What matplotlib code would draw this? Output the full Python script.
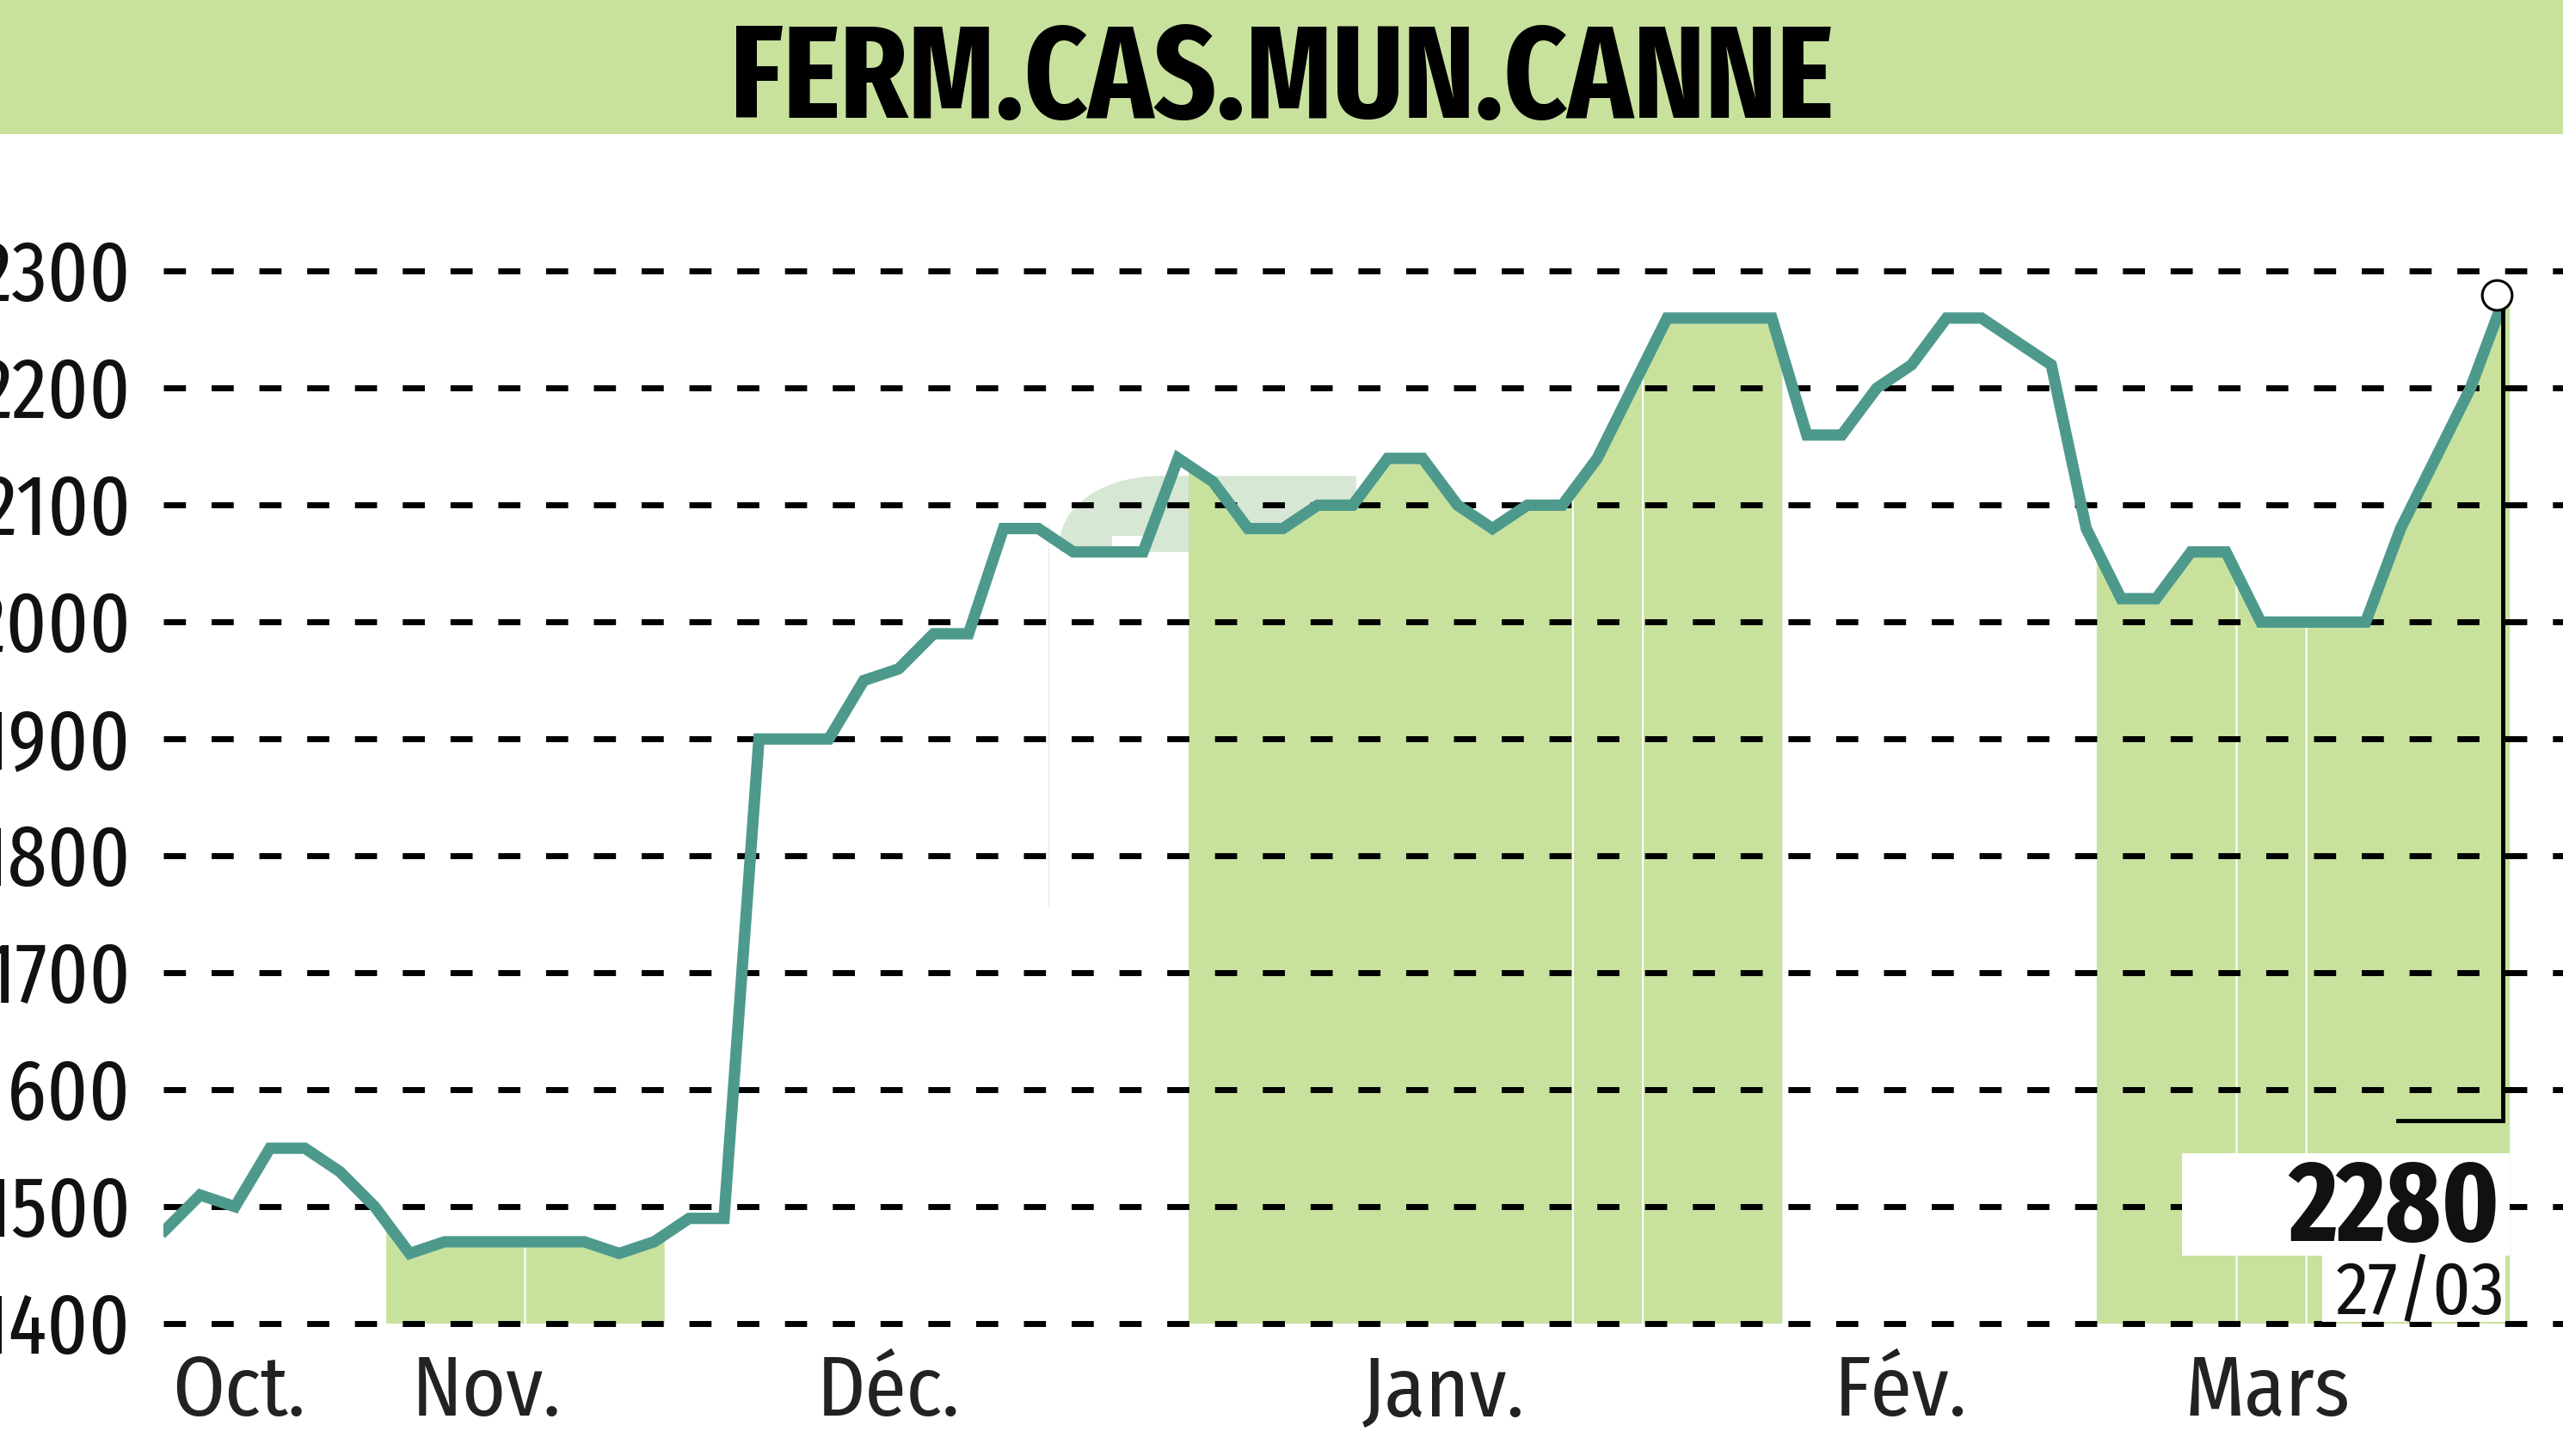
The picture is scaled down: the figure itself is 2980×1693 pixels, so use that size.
import numpy as np
import matplotlib
matplotlib.use("Agg")
import matplotlib.pyplot as plt
from matplotlib import transforms, font_manager
from matplotlib.patches import Rectangle, Polygon

TITLE = "FERM.CAS.MUN.CANNE"

# closing prices, one point per sampled session
prices = [1480, 1510, 1500, 1550, 1550, 1530, 1500, 1460, 1470, 1470,
          1470, 1470, 1470, 1460, 1470, 1490, 1490, 1900, 1900, 1900,
          1950, 1960, 1990, 1990, 2080, 2080, 2060, 2060, 2060, 2140,
          2120, 2080, 2080, 2100, 2100, 2140, 2140, 2100, 2080, 2100,
          2100, 2140, 2200, 2260, 2260, 2260, 2260, 2160, 2160, 2200,
          2220, 2260, 2260, 2240, 2220, 2080, 2020, 2020, 2060, 2060,
          2000, 2000, 2000, 2000, 2080, 2140, 2200, 2280]

yticks = [1400, 1500, 1600, 1700, 1800, 1900, 2000, 2100, 2200, 2300]
month_labels = ["Oct.", "Nov.", "Déc.", "Janv.", "Fév.", "Mars"]
month_pos = [2.1, 9.2, 20.7, 36.6, 49.7, 60.2]

# shaded bands (index ranges)
bands = [(6.33, 10.28), (10.33, 14.3),
         (29.3, 40.28), (40.33, 42.28), (42.33, 46.3),
         (55.3, 59.28), (59.33, 61.28), (61.33, 67.13)]

last_label = "2280"
last_date = "27/03"

GREEN = "#c8e29e"
TEAL = "#4d9a8d"


def pick(cands):
    have = {f.name for f in font_manager.fontManager.ttflist}
    for c in cands:
        if c in have:
            return [c, "DejaVu Sans"]
    return ["DejaVu Sans"]


BOLD_FONT = pick(["Fira Sans Extra Condensed", "PT Sans Narrow", "Roboto Condensed",
                  "Fira Sans Condensed", "Archivo Narrow", "Liberation Sans Narrow"])
NARROW = pick(["Fira Sans Condensed", "PT Sans Narrow", "Roboto Condensed",
               "Archivo Narrow", "Liberation Sans Narrow"])
XNARROW = pick(["Fira Sans Extra Condensed", "PT Sans Narrow", "Roboto Condensed",
                "Liberation Sans Narrow"])

W, H = 2980, 1693
fig = plt.figure(figsize=(W / 100, H / 100), dpi=100)

# title banner
fig.patches.append(Rectangle((0, 1 - 156 / H), 1, 156 / H, transform=fig.transFigure,
                             facecolor=GREEN, edgecolor="none", zorder=0))
title = fig.text(0.5, 1 - 137 / H, TITLE, ha="center", va="baseline", fontsize=110,
                 fontweight="bold", family=BOLD_FONT, color="#000000")
renderer = fig.canvas.get_renderer()
tw = title.get_window_extent(renderer).width
if tw > 1283:
    title.set_fontsize(110 * 1283 / tw)

ax = fig.add_axes([190 / W, 1 - 1560 / H, 1 - 190 / W, (1560 - 170) / H])
ax.set_xlim(-0.05, 68.65)
ax.set_ylim(1384.6, 2407)
ax.set_axis_off()

x = np.arange(len(prices))
y = np.array(prices, dtype=float)

# faint logo watermark behind the curve
t = np.linspace(np.pi, np.pi / 2, 40)
arc = np.column_stack([28.47 + 2.85 * np.cos(t), 2068 + 57 * np.sin(t)])
wm = np.vstack([arc, [[34.1, 2125], [34.1, 2060], [25.62, 2060]]])
ax.add_patch(Polygon(wm, closed=True, facecolor="#d6e7d3", edgecolor="none", zorder=0.5))
ax.add_patch(Rectangle((27.1, 2040), 1.0, 34, facecolor="white", edgecolor="none", zorder=0.6))
ax.plot([25.3, 25.3], [1756, 2084], color="#ececec", lw=1, zorder=0.5)

for a, b in bands:
    xs = np.concatenate([[a], x[(x > a) & (x < b)], [b]])
    ys = np.interp(xs, x, y)
    ax.fill_between(xs, 1400, ys, facecolor=GREEN, edgecolor="none", zorder=1)

for v in yticks:
    ax.axhline(v, color="black", lw=5, linestyle=(0, (3.7, 4.3)), zorder=2)

ax.plot(x, y, color=TEAL, lw=9.5, solid_joinstyle="miter", zorder=3)

# last value marker and callout
xl, yl = x[-1], y[-1]
ax.plot([xl - 0.07, xl - 0.07, 63.93], [yl, 1574, 1574], color="black", lw=3.5,
        zorder=4, solid_joinstyle="miter")
ax.plot(xl - 0.25, yl, "o", ms=25, mfc="white", mec="black", mew=2.2, zorder=5)

ax.add_patch(Rectangle((57.75, 1458), 9.38, 88, facecolor="white", edgecolor="none", zorder=5))
ax.add_patch(Rectangle((61.76, 1401.5), 5.24, 57, facecolor="white", edgecolor="none", zorder=5))
ax.text(66.86, 1471, last_label, ha="right", va="baseline", fontsize=96,
        fontweight="bold", family=BOLD_FONT, color="#111111", zorder=6)
ax.text(66.98, 1408, last_date, ha="right", va="baseline", fontsize=62,
        family=NARROW, color="#111111", zorder=6)

# y labels
fs_y = 72
ytrans = transforms.blended_transform_factory(fig.transFigure, ax.transData)
yoff = transforms.ScaledTranslation(0, -0.35 * fs_y / 72, fig.dpi_scale_trans)
for v in yticks:
    ax.text(152 / W, v, str(v), transform=ytrans + yoff, ha="right", va="baseline",
            fontsize=fs_y, family=XNARROW, color="#111111")

# month labels
xtrans = transforms.blended_transform_factory(ax.transData, fig.transFigure)
for lab, pos in zip(month_labels, month_pos):
    ax.text(pos, 1 - 1646 / H, lab, transform=xtrans, ha="center", va="baseline",
            fontsize=70, family=NARROW, color="#222222")

fig.savefig("out.png", dpi=100)
